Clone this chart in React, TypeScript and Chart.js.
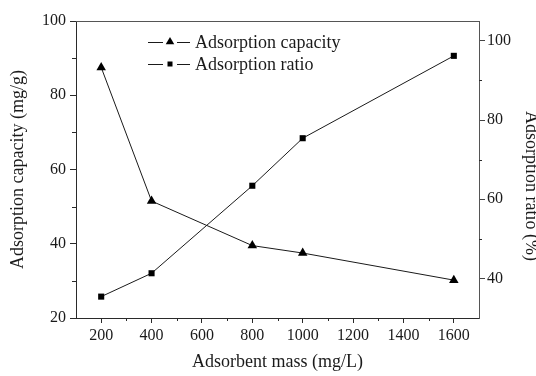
import React, { useEffect, useRef } from "react";
import { Chart, registerables } from "chart.js";

Chart.register(...registerables);

// Adsorbent dose and the two measured responses
const massLevels = [200, 400, 800, 1000, 1600];
const capacityValues = [87.5, 51.5, 39.5, 37.5, 30.2];
const ratioValues = [35.4, 41.3, 63.4, 75.4, 96.2];

// Axis ticks (major labelled, minor unlabelled)
const xTickValues = [200, 400, 600, 800, 1000, 1200, 1400, 1600];
const xMinorValues = [300, 500, 700, 900, 1100, 1300, 1500];
const leftTickValues = [20, 40, 60, 80, 100];
const leftMinorValues = [30, 50, 70, 90];
const rightTickValues = [40, 60, 80, 100];
const rightMinorValues = [50, 70, 90];

const seriesNames = ["Adsorption capacity", "Adsorption ratio"];
const xTitle = "Adsorbent mass (mg/L)";
const leftTitle = "Adsorption capacity (mg/g)";
const rightTitle = "Adsorption ratio (%)";

const FONT = "'Liberation Serif', 'Times New Roman', serif";
const INK = "#1a1a1a";
const AXIS = "#2a2a2a";

const plainLabel = (v: any) => String(v);

function trianglePath(ctx: CanvasRenderingContext2D, x: number, y: number, r: number) {
  ctx.beginPath();
  ctx.moveTo(x, y - r);
  ctx.lineTo(x + r * 0.95, y + r * 0.6);
  ctx.lineTo(x - r * 0.95, y + r * 0.6);
  ctx.closePath();
  ctx.fill();
}

function squarePath(ctx: CanvasRenderingContext2D, x: number, y: number, half: number) {
  ctx.fillRect(x - half, y - half, half * 2, half * 2);
}

const decorPlugin = {
  id: "decor",
  afterDraw(chart: any) {
    const ctx: CanvasRenderingContext2D = chart.ctx;
    const area = chart.chartArea;
    const sx = chart.scales.x;
    const sy = chart.scales.y;
    const sy1 = chart.scales.y1;
    ctx.save();

    // top frame line
    ctx.strokeStyle = "#555";
    ctx.lineWidth = 1;
    ctx.beginPath();
    ctx.moveTo(area.left, area.top + 0.5);
    ctx.lineTo(area.right, area.top + 0.5);
    ctx.stroke();

    // minor ticks
    ctx.strokeStyle = AXIS;
    ctx.beginPath();
    xMinorValues.forEach((v) => {
      const px = Math.round(sx.getPixelForValue(v)) + 0.5;
      ctx.moveTo(px, area.bottom);
      ctx.lineTo(px, area.bottom + 3);
    });
    leftMinorValues.forEach((v) => {
      const py = Math.round(sy.getPixelForValue(v)) + 0.5;
      ctx.moveTo(area.left, py);
      ctx.lineTo(area.left - 4, py);
    });
    rightMinorValues.forEach((v) => {
      const py = Math.round(sy1.getPixelForValue(v)) + 0.5;
      ctx.moveTo(area.right, py);
      ctx.lineTo(area.right + 3, py);
    });
    ctx.stroke();

    // legend
    ctx.font = `18px ${FONT}`;
    ctx.textBaseline = "middle";
    ctx.textAlign = "left";
    const rows = [42, 64];
    rows.forEach((ry, i) => {
      ctx.strokeStyle = INK;
      ctx.lineWidth = 1;
      ctx.beginPath();
      ctx.moveTo(148, ry + 0.5);
      ctx.lineTo(163, ry + 0.5);
      ctx.moveTo(177, ry + 0.5);
      ctx.lineTo(190, ry + 0.5);
      ctx.stroke();
      ctx.fillStyle = "#000";
      if (i === 0) trianglePath(ctx, 170, ry - 0.5, 4.5);
      else squarePath(ctx, 170, ry, 2.5);
      ctx.fillStyle = INK;
      ctx.fillText(seriesNames[i], 195, ry + 1);
    });

    // right axis title, reading downward
    ctx.translate(531, 186);
    ctx.rotate(Math.PI / 2);
    ctx.textAlign = "center";
    ctx.textBaseline = "middle";
    ctx.fillStyle = INK;
    ctx.fillText(rightTitle, 0, 0);
    ctx.restore();
  },
};

export default function App() {
  const canvasRef = useRef<HTMLCanvasElement | null>(null);

  useEffect(() => {
    document.body.style.margin = "0";
    const canvas = canvasRef.current;
    if (!canvas) return;

    const tickFont = { family: FONT, size: 16 };
    const titleFont = { family: FONT, size: 18 };

    const chart = new Chart(canvas, {
      type: "line",
      data: {
        datasets: [
          {
            label: seriesNames[0],
            data: massLevels.map((m, i) => ({ x: m, y: capacityValues[i] })),
            yAxisID: "y",
            borderColor: INK,
            borderWidth: 1,
            pointStyle: "triangle",
            pointRadius: 5.5,
            pointBackgroundColor: "#000",
            pointBorderColor: "#000",
            pointBorderWidth: 0,
            tension: 0,
          },
          {
            label: seriesNames[1],
            data: massLevels.map((m, i) => ({ x: m, y: ratioValues[i] })),
            yAxisID: "y1",
            borderColor: INK,
            borderWidth: 1,
            pointStyle: "rect",
            pointRadius: 4.3,
            pointBackgroundColor: "#000",
            pointBorderColor: "#000",
            pointBorderWidth: 0,
            tension: 0,
          },
        ],
      },
      options: {
        responsive: false,
        animation: false,
        layout: { padding: { top: 21, left: 0, right: 0, bottom: 0 } },
        plugins: { legend: { display: false }, tooltip: { enabled: false } },
        scales: {
          x: {
            type: "linear",
            min: 100,
            max: 1700,
            afterBuildTicks: (s: any) => {
              s.ticks = xTickValues.map((v) => ({ value: v }));
            },
            afterFit: (s: any) => {
              s.height = 58;
            },
            grid: { drawOnChartArea: false, drawTicks: true, tickLength: 5, color: AXIS, lineWidth: 1 },
            border: { display: true, color: AXIS, width: 1 },
            ticks: { color: INK, font: tickFont, padding: 3, maxRotation: 0, autoSkip: false, callback: plainLabel },
            title: { display: true, text: xTitle, color: INK, font: titleFont, padding: { top: 0, bottom: 3 } },
          },
          y: {
            type: "linear",
            position: "left",
            min: 20,
            max: 100,
            afterBuildTicks: (s: any) => {
              s.ticks = leftTickValues.map((v) => ({ value: v }));
            },
            afterFit: (s: any) => {
              s.width = 76;
            },
            grid: { drawOnChartArea: false, drawTicks: true, tickLength: 6, color: AXIS, lineWidth: 1 },
            border: { display: true, color: AXIS, width: 1 },
            ticks: { color: INK, font: tickFont, padding: 4, callback: plainLabel },
            title: { display: true, text: leftTitle, color: INK, font: titleFont, padding: { top: 7, bottom: 0 } },
          },
          y1: {
            type: "linear",
            position: "right",
            min: 30,
            max: 105,
            afterBuildTicks: (s: any) => {
              s.ticks = rightTickValues.map((v) => ({ value: v }));
            },
            afterFit: (s: any) => {
              s.width = 57;
            },
            grid: { drawOnChartArea: false, drawTicks: true, tickLength: 6, color: "#444", lineWidth: 1 },
            border: { display: true, color: "#555", width: 1 },
            ticks: { color: INK, font: tickFont, padding: 2, callback: plainLabel },
            title: { display: false },
          },
        },
      },
      plugins: [decorPlugin],
    } as any);

    return () => chart.destroy();
  }, []);

  return (
    <div style={{ width: 536, height: 376, background: "#fff" }}>
      <canvas ref={canvasRef} width={536} height={376} style={{ display: "block" }} />
    </div>
  );
}
